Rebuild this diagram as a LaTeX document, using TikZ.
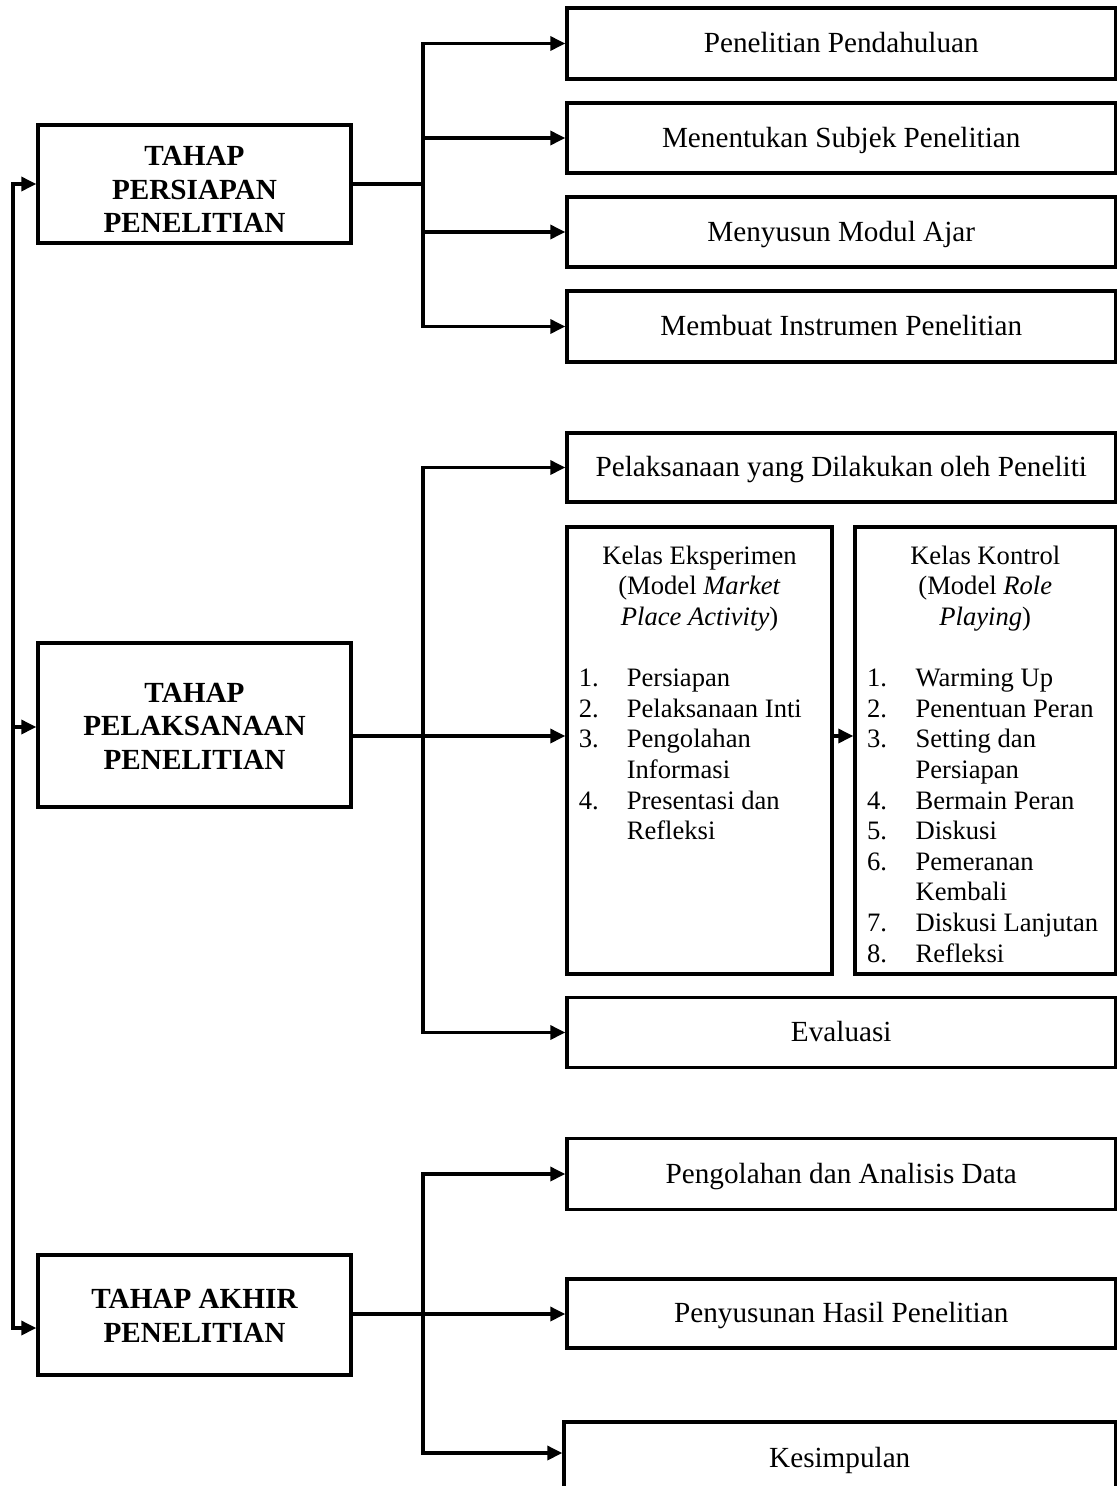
\documentclass[tikz,border=0pt]{standalone}
\usepackage{fontspec}
\setmainfont{Liberation Serif}
\usetikzlibrary{arrows.meta}
\begin{document}
\begin{tikzpicture}[x=1pt,y=-1pt,
  ln/.style={line width=3.4pt},
  arr/.style={ln, -{Triangle[length=15pt,width=14pt]}},
  box/.style={draw, line width=3.4pt, inner sep=0pt},
  lbox/.style={box, minimum width=313pt},
  ltext/.style={align=center, inner sep=0pt, font=\fontsize{29.2}{33.5}\selectfont\bfseries},
  rbox/.style={box, minimum width=548.5pt, text height=22pt, text depth=4pt, font=\fontsize{29.2}{33.5}\selectfont},
  ihead/.style={anchor=north, align=center, inner sep=0pt, font=\fontsize{26.6}{30.6}\selectfont},
  ilist/.style={anchor=north west, inner sep=0pt, font=\fontsize{26.6}{30.6}\selectfont},
]
\useasboundingbox (0,0) rectangle (1117,1486);

% left stage boxes
\node[lbox, minimum height=118pt] (L1) at (194.5,184) {};
\node[ltext] (L1t) at (194.5,189.5) {TAHAP\\PERSIAPAN\\PENELITIAN};
\node[lbox, minimum height=164pt] (L2) at (194.5,725) {};
\node[ltext] (L2t) at (194.5,726) {TAHAP\\PELAKSANAAN\\PENELITIAN};
\node[lbox, minimum height=120pt] (L3) at (194.5,1315) {};
\node[ltext] (L3t) at (194.5,1316) {TAHAP AKHIR\\PENELITIAN};

% right boxes, stage 1
\node[rbox, minimum height=71pt] (R1) at (841.25,43.5) {Penelitian Pendahuluan};
\node[rbox, minimum height=70pt] (R2) at (841.25,138) {Menentukan Subjek Penelitian};
\node[rbox, minimum height=70pt] (R3) at (841.25,232) {Menyusun Modul Ajar};
\node[rbox, minimum height=71pt] (R4) at (841.25,326.5) {Membuat Instrumen Penelitian};

% stage 2
\node[rbox, minimum height=69pt] (P1) at (841.25,467.5) {Pelaksanaan yang Dilakukan oleh Peneliti};
\node[box, minimum width=265pt, minimum height=447pt] (E) at (699.5,750.5) {};
\node[box, minimum width=260.5pt, minimum height=447pt] (K) at (985.25,750.5) {};
\node[ihead] (Eh) at (699.5,542.6) {\strut Kelas Eksperimen\\(Model \textit{Market}\\\textit{Place Activity})};
\node[ihead] (Kh) at (985.25,542.6) {\strut Kelas Kontrol\\(Model \textit{Role}\\\textit{Playing})};
\node[ilist] (El) at (578.6,665) {\begin{tabular}{@{}p{48pt}@{}l@{}}
1. & Persiapan\\
2. & Pelaksanaan Inti\\
3. & Pengolahan\\
   & Informasi\\
4. & Presentasi dan\\
   & Refleksi
\end{tabular}};
\node[ilist] (Kl) at (866.8,665) {\begin{tabular}{@{}p{48.6pt}@{}l@{}}
1. & Warming Up\\
2. & Penentuan Peran\\
3. & Setting dan\\
   & Persiapan\\
4. & Bermain Peran\\
5. & Diskusi\\
6. & Pemeranan\\
   & Kembali\\
7. & Diskusi Lanjutan\\
8. & Refleksi
\end{tabular}};
\node[rbox, minimum height=70pt] (Ev) at (841.25,1032.5) {Evaluasi};

% stage 3
\node[rbox, minimum height=71pt] (Q1) at (841.25,1174) {Pengolahan dan Analisis Data};
\node[rbox, minimum height=69pt] (Q2) at (841.25,1313.5) {Penyusunan Hasil Penelitian};
\node[rbox, minimum width=551.5pt, minimum height=72pt] (Q3) at (839.75,1458) {Kesimpulan};

% left spine
\coordinate (LM) at (13,727);
\coordinate (LB) at (13,1328);
\draw[arr] (LM) |- (L1.west);
\draw[arr] (LM) -- (L2.west |- LM);
\draw[arr] (LM) |- (L3.west |- LB);

% trunk 1
\coordinate (T1) at (423,184);
\draw[ln] (L1.east) -- (T1);
\draw[arr] (T1) |- (R1.west);
\draw[arr] (T1) |- (R4.west);
\draw[arr] (T1 |- R2.west) -- (R2.west);
\draw[arr] (T1 |- R3.west) -- (R3.west);

% trunk 2
\coordinate (T2) at (423,736);
\draw[ln] (L2.east |- T2) -- (T2);
\draw[arr] (T2) |- (P1.west);
\draw[arr] (T2) |- (Ev.west);
\draw[arr] (T2) -- (E.west |- T2);
\draw[arr] (E.east |- T2) -- (K.west |- T2);

% trunk 3
\coordinate (T3) at (423,1314);
\draw[ln] (L3.east |- T3) -- (T3);
\draw[arr] (T3) |- (Q1.west);
\draw[arr] (T3) -- (Q2.west |- T3);
\draw[arr] (T3) |- ([yshift=5pt]Q3.west);
\end{tikzpicture}
\end{document}
